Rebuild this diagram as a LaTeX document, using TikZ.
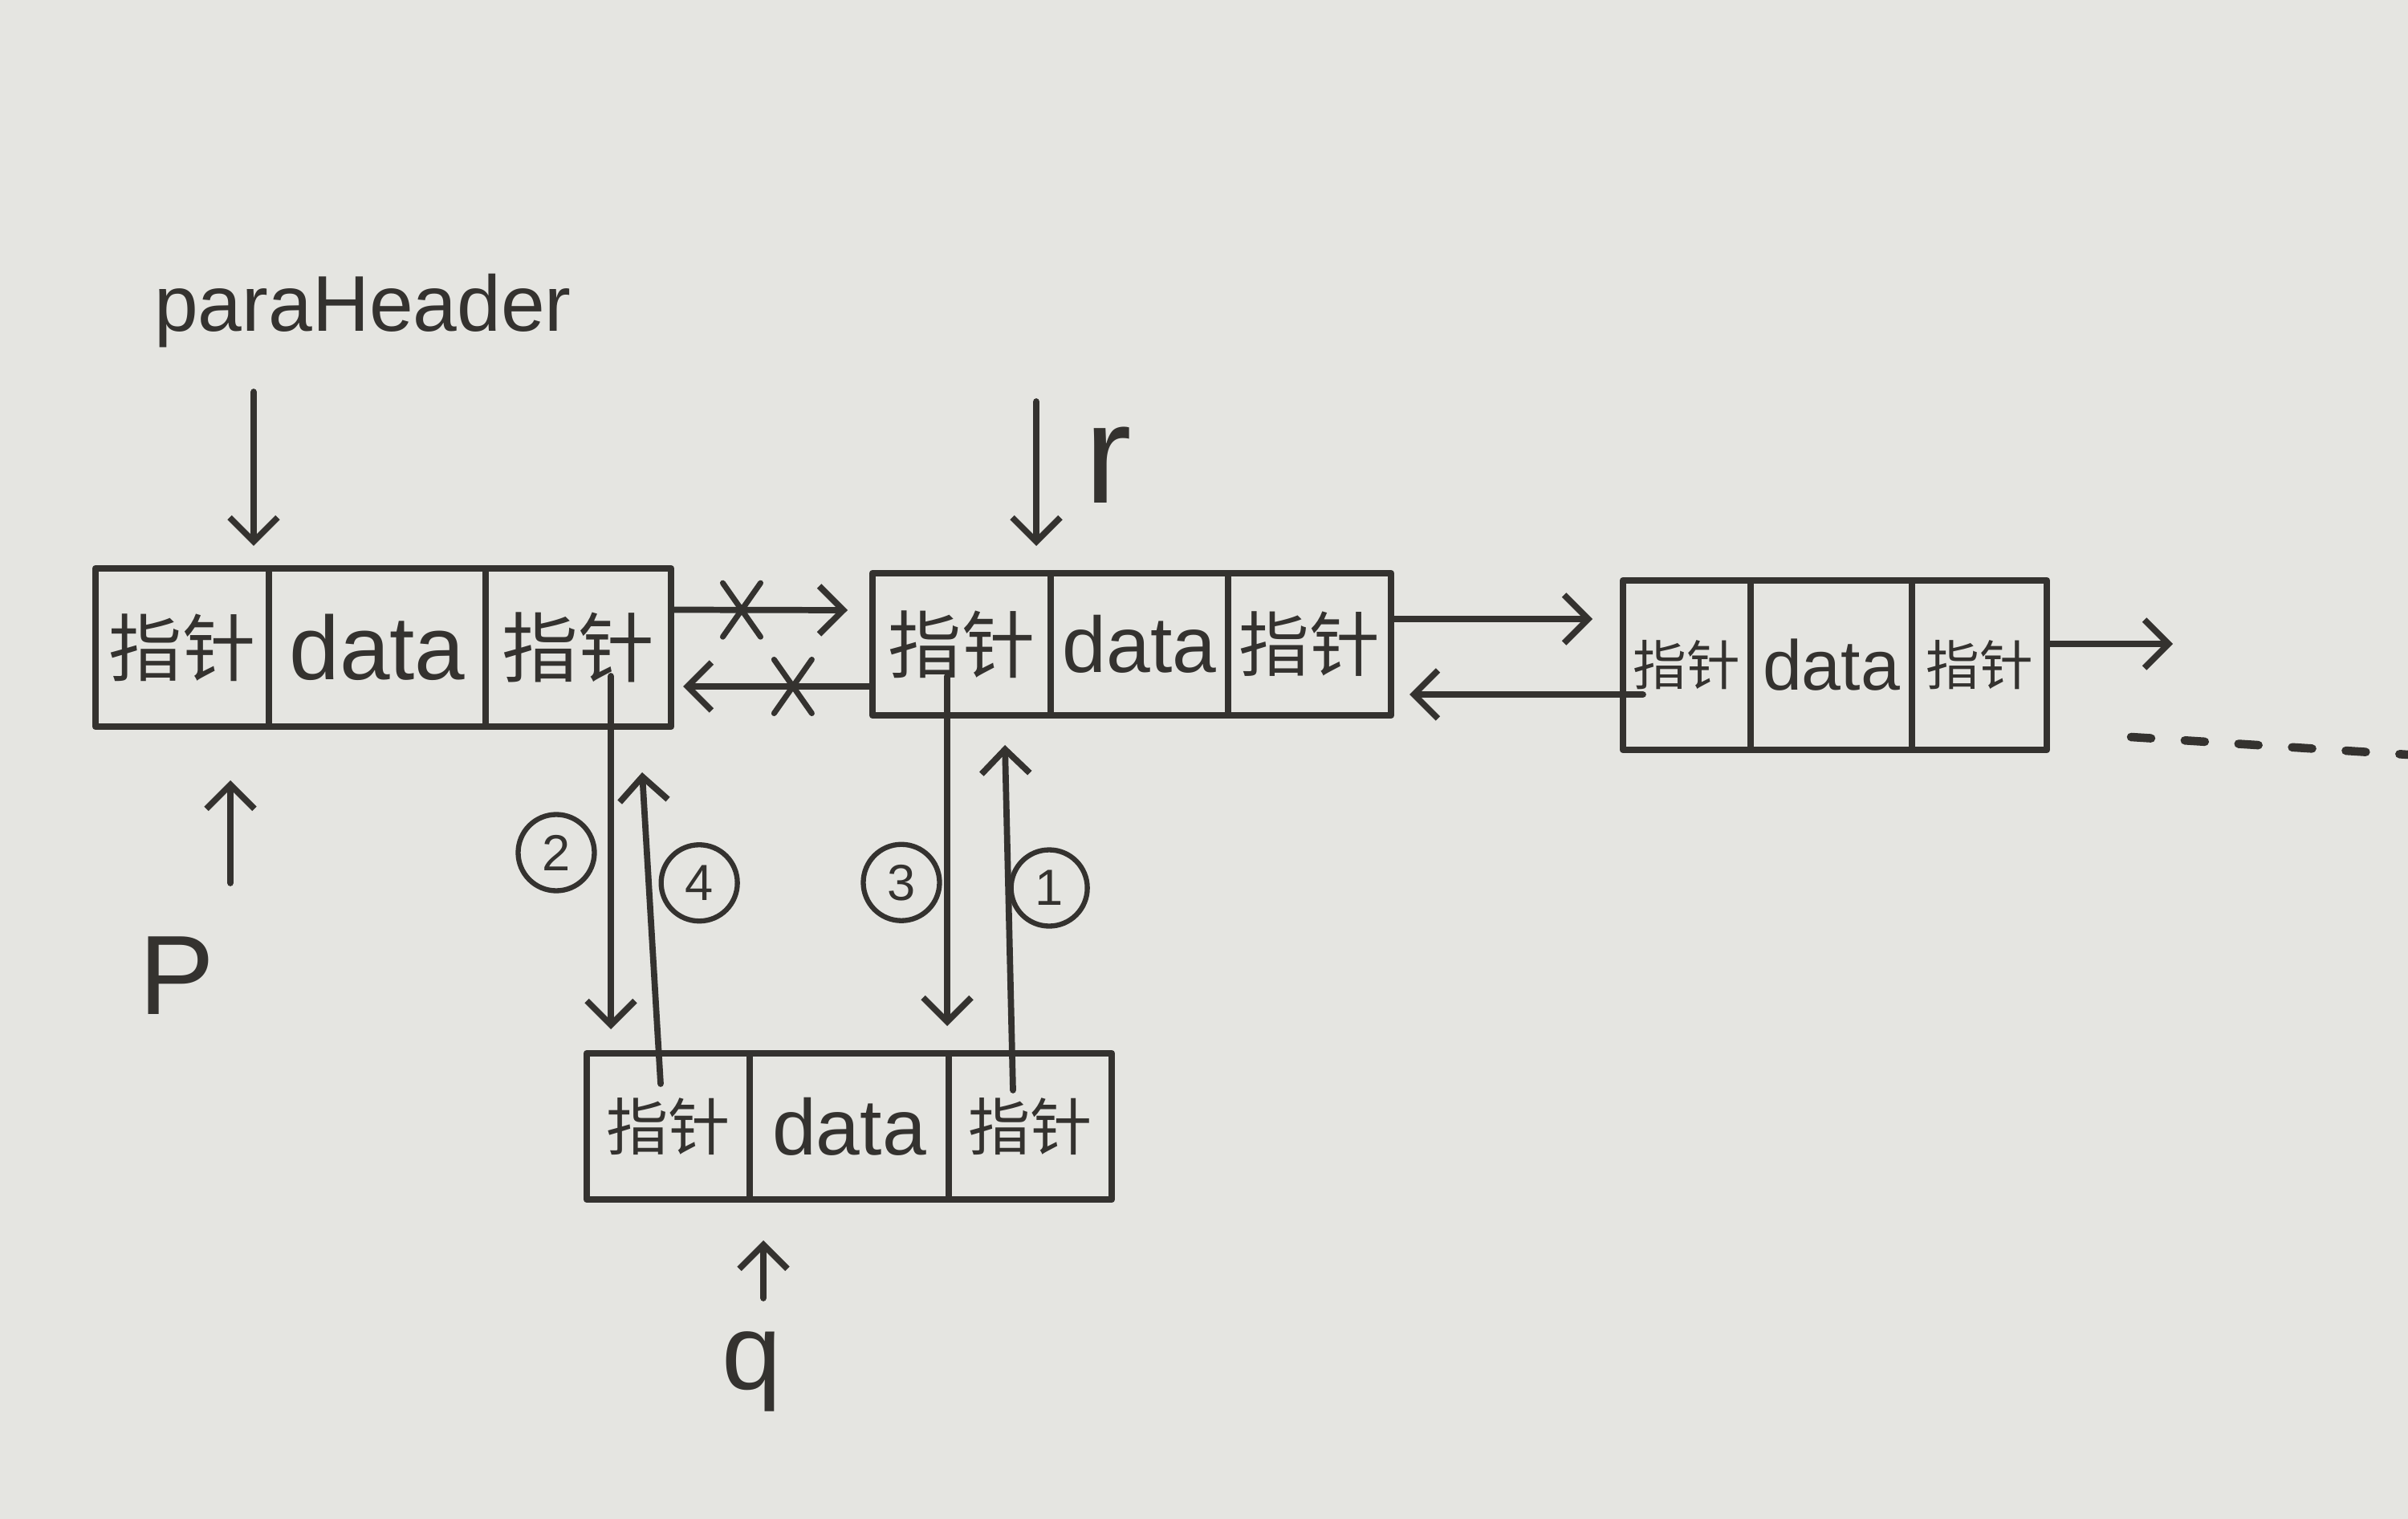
\documentclass[tikz,border=0pt]{standalone}
\usepackage{fontspec}
\setmainfont{Liberation Sans}
\newfontfamily\cjk{Noto Sans CJK SC}
\usetikzlibrary{positioning,arrows.meta,shapes.misc}
\definecolor{ink}{RGB}{52,50,47}
\definecolor{paper}{RGB}{229,229,225}
\newcommand{\zhizhen}{{\cjk 指针}}
\newcommand{\fs}[1]{\fontsize{#1}{#1}\selectfont}
\tikzset{
  cell/.style={draw=ink, line width=2.4pt, outer sep=0pt, inner sep=0pt, text=ink},
  ptr/.style={draw=ink, line width=2.2pt, -{Straight Barb[length=0.3cm,width=0.6cm]}},
  num/.style={circle, draw=ink, line width=1.8pt, minimum size=0.95cm, inner sep=0pt, text=ink, font=\fs{18}},
  lbl/.style={text=ink, inner sep=0pt},
  cutmark/.style={cross out, draw=ink, line width=2pt, minimum width=0.4cm, minimum height=0.6cm, inner sep=0pt},
}
\begin{document}
\begin{tikzpicture}[line cap=round, line join=round]
\fill[paper] (0,0) rectangle (30,-18.92);
\useasboundingbox (0,0) rectangle (30,-18.92);

% head node
\node[cell, minimum width=2.16cm, minimum height=1.97cm, anchor=north west, font=\fs{26}] (a1) at (1.19,-7.08) {\zhizhen};
\node[cell, minimum width=2.70cm, minimum height=1.97cm, right=0pt of a1, font=\fs{32}] (a2) {data};
\node[cell, minimum width=2.31cm, minimum height=1.97cm, right=0pt of a2, font=\fs{27}] (a3) {\zhizhen};

% node r
\node[cell, minimum width=2.22cm, minimum height=1.77cm, anchor=north west, font=\fs{26}] (b1) at (10.87,-7.14) {\zhizhen};
\node[cell, minimum width=2.21cm, minimum height=1.77cm, right=0pt of b1, font=\fs{28}] (b2) {data};
\node[cell, minimum width=2.03cm, minimum height=1.77cm, right=0pt of b2, font=\fs{25}] (b3) {\zhizhen};

% third node
\node[cell, minimum width=1.59cm, minimum height=2.11cm, anchor=north west, font=\fs{19}] (c1) at (20.22,-7.23) {\zhizhen};
\node[cell, minimum width=2.01cm, minimum height=2.11cm, right=0pt of c1, font=\fs{25}] (c2) {data};
\node[cell, minimum width=1.68cm, minimum height=2.11cm, right=0pt of c2, font=\fs{19}] (c3) {\zhizhen};

% new node q
\node[cell, minimum width=2.03cm, minimum height=1.82cm, anchor=north west, font=\fs{22}] (d1) at (7.31,-13.12) {\zhizhen};
\node[cell, minimum width=2.48cm, minimum height=1.82cm, right=0pt of d1, font=\fs{28}] (d2) {data};
\node[cell, minimum width=2.03cm, minimum height=1.82cm, right=0pt of d2, font=\fs{22}] (d3) {\zhizhen};

% labels
\node[lbl, font=\fs{28}, anchor=base] (ph) at (4.52,-4.13) {paraHeader};
\node[lbl, font=\fs{40}, anchor=base] (p) at (2.20,-12.63) {P};
\node[lbl, font=\fs{50}, anchor=base] (r) at (13.81,-6.27) {r};
\node[lbl, font=\fs{38}, anchor=base] (q) at (9.37,-17.30) {q};
\coordinate (nxt) at (27.07,-8.02);
\coordinate (dots0) at (26.55,-9.18);
\coordinate (dots1) at (30.00,-9.40);

% pointers to nodes
\draw[ptr] ([xshift=-1.36cm,yshift=-0.75cm]ph.base) -- ([xshift=-0.19cm,yshift=0.28cm]a1.north east);
\draw[ptr] ([xshift=0.67cm,yshift=1.63cm]p.base) -- ([xshift=0.60cm,yshift=-0.67cm]a1.south);
\draw[ptr] ([xshift=-0.90cm,yshift=1.27cm]r.base) -- ([xshift=-0.18cm,yshift=0.34cm]b1.north east);
\draw[ptr] ([xshift=0.14cm,yshift=1.13cm]q.base) -- ([xshift=0.17cm,yshift=-0.51cm]d1.south east);

% old links, cut
\draw[ptr] ([yshift=0.47cm]a3.east) -- ([xshift=-0.31cm,yshift=0.425cm]b1.west) node[cutmark, pos=0.4] (x1) {};
\draw[ptr] ([yshift=-0.525cm]b1.west) -- ([xshift=0.15cm,yshift=-0.485cm]a3.east) node[cutmark, pos=0.42] (x2) {};

% links to the third node
\draw[ptr] ([yshift=0.315cm]b3.east) -- ([xshift=-0.38cm,yshift=0.575cm]c1.west);
\draw[ptr] ([xshift=0.25cm,yshift=-0.365cm]c1.west) -- ([xshift=0.23cm,yshift=-0.625cm]b3.east);
\draw[ptr] ([yshift=0.265cm]c3.east) -- (nxt);
\draw[ink, line width=3pt, dash pattern=on 0.25cm off 0.42cm] (dots0) -- (dots1);

% insertion steps
\draw[ptr] ([xshift=0.405cm,yshift=-0.355cm]a3.center) -- ([xshift=-0.715cm,yshift=0.30cm]d1.north) node[num, midway, xshift=-0.68cm] (n2) {2};
\draw[ptr] ([xshift=-0.095cm,yshift=0.53cm]d1.center) -- ([xshift=0.795cm,yshift=-0.57cm]a3.south) node[num, pos=0.645, xshift=0.63cm] (n4) {4};
\draw[ptr] ([xshift=-0.18cm,yshift=-0.395cm]b1.center) -- ([xshift=-1.035cm,yshift=0.34cm]d3.north) node[num, pos=0.59, xshift=-0.57cm] (n3) {3};
\draw[ptr] ([xshift=-0.215cm,yshift=0.45cm]d3.center) -- ([xshift=0.54cm,yshift=-0.37cm]b1.south) node[num, pos=0.586, xshift=0.51cm] (n1) {1};
\end{tikzpicture}
\end{document}
